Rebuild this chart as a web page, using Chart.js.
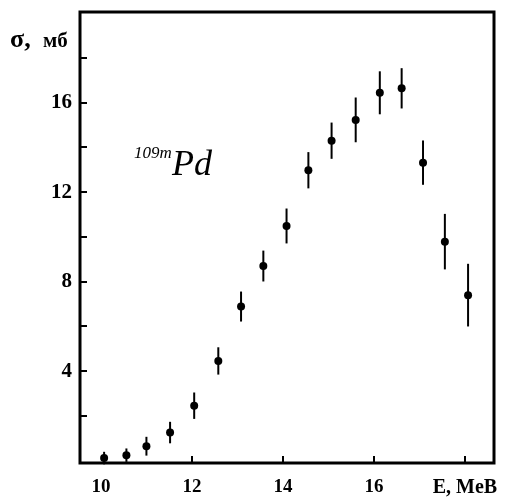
<!DOCTYPE html>
<html>
<head>
<meta charset="utf-8">
<script src="https://cdn.jsdelivr.net/npm/chart.js@4/dist/chart.umd.min.js"></script>
<style>
  html, body { margin: 0; padding: 0; background: #fff; }
  #wrap { width: 505px; height: 497px; }
</style>
</head>
<body>
<div id="wrap"><canvas id="chart" width="505" height="497"></canvas></div>
<script>
// energy, MeV
const energy = [10.07, 10.56, 11.0, 11.52, 12.05, 12.58, 13.08, 13.57, 14.08, 14.56, 15.07, 15.6, 16.13, 16.61, 17.08, 17.56, 18.07];
// cross-section, mb
const sigma = [0.12, 0.25, 0.65, 1.26, 2.46, 4.46, 6.89, 8.7, 10.49, 12.98, 14.3, 15.23, 16.44, 16.64, 13.32, 9.79, 7.4];
const sigmaErr = [0.28, 0.3, 0.42, 0.48, 0.59, 0.61, 0.67, 0.69, 0.78, 0.81, 0.81, 1.0, 0.96, 0.9, 0.99, 1.24, 1.4];

const xTicks = [10, 12, 14, 16, 18];
const xTickMarks = [12, 14, 16, 18];
const xLabels = { 10: "10", 12: "12", 14: "14", 16: "16", 18: "E, MeB" };
const yTicks = [2, 4, 6, 8, 10, 12, 14, 16, 18];
const yLabels = { 4: "4", 8: "8", 12: "12", 16: "16" };

const SERIF = "'Liberation Serif', 'DejaVu Serif', serif";

function noPadding(scale) {
  scale.paddingTop = 0;
  scale.paddingBottom = 0;
  scale.paddingLeft = 0;
  scale.paddingRight = 0;
}

const errorBars = {
  id: "errorBars",
  beforeDatasetsDraw(chart) {
    const { ctx, scales: { x, y } } = chart;
    ctx.save();
    ctx.strokeStyle = "#000";
    ctx.lineWidth = 2;
    energy.forEach((e, i) => {
      const px = x.getPixelForValue(e);
      ctx.beginPath();
      ctx.moveTo(px, y.getPixelForValue(sigma[i] - sigmaErr[i]));
      ctx.lineTo(px, y.getPixelForValue(sigma[i] + sigmaErr[i]));
      ctx.stroke();
    });
    ctx.restore();
  },
};

const frame = {
  id: "frame",
  afterDraw(chart) {
    const { ctx, chartArea: a, scales: { x, y } } = chart;
    ctx.save();
    ctx.strokeStyle = "#000";
    ctx.lineWidth = 3;
    ctx.strokeRect(a.left, a.top, a.right - a.left, a.bottom - a.top);

    // inward tick marks
    ctx.lineWidth = 2;
    ctx.beginPath();
    yTicks.forEach(v => {
      const py = Math.round(y.getPixelForValue(v));
      ctx.moveTo(a.left, py);
      ctx.lineTo(a.left + 7, py);
    });
    xTickMarks.forEach(v => {
      const px = Math.round(x.getPixelForValue(v));
      ctx.moveTo(px, a.bottom);
      ctx.lineTo(px, a.bottom - 7);
    });
    ctx.stroke();

    // axis title
    ctx.fillStyle = "#000";
    ctx.textBaseline = "alphabetic";
    ctx.textAlign = "left";
    ctx.font = `bold 26px ${SERIF}`;
    ctx.fillText("σ,", 10, 47);
    ctx.font = `bold 21px ${SERIF}`;
    ctx.fillText("мб", 43, 47);

    // isotope label
    ctx.font = `italic 17px ${SERIF}`;
    ctx.fillText("109m", 134, 158);
    ctx.font = `italic 36px ${SERIF}`;
    ctx.fillText("Pd", 172, 175);
    ctx.restore();
  },
};

new Chart(document.getElementById("chart"), {
  type: "scatter",
  data: {
    datasets: [{
      data: energy.map((e, i) => ({ x: e, y: sigma[i] })),
      pointRadius: 4,
      pointHoverRadius: 4,
      pointBackgroundColor: "#000",
      pointBorderColor: "#000",
      pointBorderWidth: 0,
    }],
  },
  options: {
    responsive: false,
    animation: false,
    events: [],
    layout: { padding: { top: 12, right: 11, left: 0, bottom: 0 } },
    plugins: { legend: { display: false }, tooltip: { enabled: false } },
    scales: {
      x: {
        type: "linear",
        min: 9.54,
        max: 18.64,
        afterBuildTicks: scale => { scale.ticks = xTicks.map(value => ({ value })); },
        afterFit: scale => { scale.height = 34; noPadding(scale); },
        grid: { display: false, drawTicks: false },
        border: { display: false },
        ticks: {
          color: "#000",
          padding: 13,
          maxRotation: 0,
          autoSkip: false,
          font: ctx => ({ family: SERIF, size: ctx.tick && ctx.tick.value === 18 ? 20 : 19, weight: "bold" }),
          callback: value => xLabels[value] || "",
        },
      },
      y: {
        type: "linear",
        min: -0.1,
        max: 20.05,
        afterBuildTicks: scale => { scale.ticks = yTicks.map(value => ({ value })); },
        afterFit: scale => { scale.width = 80; noPadding(scale); },
        grid: { display: false, drawTicks: false },
        border: { display: false },
        ticks: {
          color: "#000",
          padding: 8,
          autoSkip: false,
          font: { family: SERIF, size: 21, weight: "bold" },
          callback: value => yLabels[value] || "",
        },
      },
    },
  },
  plugins: [errorBars, frame],
});
</script>
</body>
</html>
